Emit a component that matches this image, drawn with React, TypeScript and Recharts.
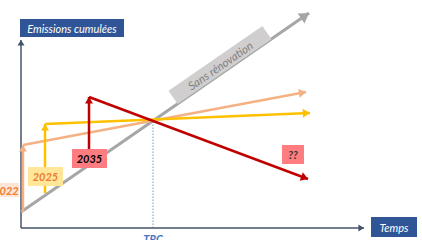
import React from 'react';
import { LineChart, Line, XAxis, YAxis } from 'recharts';

// diagram coordinates in abstract units: x = time, y = cumulated emissions
const axisX = [{ x: 0, y: 0 }, { x: 85.75, y: 0 }];
const axisY = [{ x: 0, y: 0 }, { x: 0, y: 94 }];
const sansRenovation = [{ x: 0, y: 8 }, { x: 72, y: 107.5 }];
const reno2022Up = [{ x: 0.5, y: 8 }, { x: 0.5, y: 41.5 }];
const reno2022 = [{ x: 0.5, y: 41.5 }, { x: 71.25, y: 68 }];
const reno2025Up = [{ x: 6, y: 17.5 }, { x: 6, y: 52 }];
const reno2025 = [{ x: 6, y: 52 }, { x: 72.25, y: 57.5 }];
const reno2035Up = [{ x: 17, y: 39.5 }, { x: 17, y: 65.5 }];
const reno2035 = [{ x: 17, y: 65.5 }, { x: 71.75, y: 24.5 }];
const trcLine = [{ x: 33, y: 0 }, { x: 33, y: 54 }];

const font = 'Lato, "Open Sans", sans-serif';

const arrowDot = (color: string, size: number) => (props: any) => {
  const { cx, cy, index, points } = props;
  if (!points || index !== points.length - 1) return <g key={`d${index}`} />;
  const prev = points[index - 1];
  const ang = Math.atan2(cy - prev.y, cx - prev.x);
  const back = size * 1.6;
  const p1x = cx - back * Math.cos(ang) + size * Math.sin(ang);
  const p1y = cy - back * Math.sin(ang) - size * Math.cos(ang);
  const p2x = cx - back * Math.cos(ang) - size * Math.sin(ang);
  const p2y = cy - back * Math.sin(ang) + size * Math.cos(ang);
  return <polygon key={`d${index}`} points={`${cx},${cy} ${p1x},${p1y} ${p2x},${p2y}`} fill={color} />;
};

const box = (left: number, top: number, width: number, height: number, bg: string): React.CSSProperties => ({
  position: 'absolute',
  left,
  top,
  width,
  height,
  background: bg,
  display: 'flex',
  alignItems: 'center',
  justifyContent: 'center',
  fontFamily: font,
  fontStyle: 'italic',
  whiteSpace: 'nowrap',
});

export default function App() {
  return (
    <div style={{ position: 'relative', width: 422, height: 240, overflow: 'hidden', background: '#fff' }}>
      <style>{'body{margin:0}'}</style>
      <LineChart width={422} height={240} margin={{ top: 8, right: 1, bottom: 12, left: 21 }}>
        <XAxis type="number" dataKey="x" domain={[0, 100]} hide />
        <YAxis type="number" dataKey="y" domain={[0, 110]} hide />
        <Line data={trcLine} dataKey="y" stroke="#8FAADC" strokeWidth={1.2} strokeDasharray="1.5 1.5" dot={false} isAnimationActive={false} />
        <Line data={axisX} dataKey="y" stroke="#44546A" strokeWidth={1.5} dot={arrowDot('#44546A', 3.5)} isAnimationActive={false} />
        <Line data={axisY} dataKey="y" stroke="#44546A" strokeWidth={1.5} dot={arrowDot('#44546A', 3.5)} isAnimationActive={false} />
        <Line data={sansRenovation} dataKey="y" stroke="#A6A6A6" strokeWidth={3} dot={arrowDot('#A6A6A6', 6)} isAnimationActive={false} />
        <Line data={reno2022Up} dataKey="y" stroke="#F4B183" strokeWidth={2.5} dot={arrowDot('#F4B183', 4)} isAnimationActive={false} />
        <Line data={reno2022} dataKey="y" stroke="#F4B183" strokeWidth={2.5} dot={arrowDot('#F4B183', 4.5)} isAnimationActive={false} />
        <Line data={reno2025Up} dataKey="y" stroke="#FFC000" strokeWidth={2.5} dot={arrowDot('#FFC000', 4)} isAnimationActive={false} />
        <Line data={reno2025} dataKey="y" stroke="#FFC000" strokeWidth={2.5} dot={arrowDot('#FFC000', 4.5)} isAnimationActive={false} />
        <Line data={reno2035Up} dataKey="y" stroke="#C00000" strokeWidth={2.5} dot={arrowDot('#C00000', 4)} isAnimationActive={false} />
        <Line data={reno2035} dataKey="y" stroke="#C00000" strokeWidth={2.5} dot={arrowDot('#C00000', 4.5)} isAnimationActive={false} />
      </LineChart>

      <div style={{ ...box(20, 19, 104, 18, '#2F5597'), color: '#fff', fontSize: 11 }}>Emissions cumulées</div>
      <div style={{ ...box(371, 217, 46, 20, '#2F5597'), color: '#fff', fontSize: 11 }}>Temps</div>
      <div
        style={{
          ...box(163, 57, 114, 16, '#D0CECE'),
          color: '#7F7F7F',
          fontSize: 11.5,
          transform: 'rotate(-34.6deg)',
          transformOrigin: 'center',
        }}
      >
        Sans rénovation
      </div>
      <div style={{ ...box(-7, 183, 26, 14, '#FBE5D6'), color: '#ED7D31', fontSize: 11, fontWeight: 700 }}>2022</div>
      <div style={{ ...box(28, 167, 35, 19, '#FFE699'), color: '#ED7D31', fontSize: 11, fontWeight: 700 }}>2025</div>
      <div style={{ ...box(72, 149, 35, 19, '#FF7C80'), color: '#000', fontSize: 11, fontWeight: 700 }}>2035</div>
      <div style={{ ...box(282, 145, 22, 19, '#FF7C80'), color: '#333', fontSize: 11, fontWeight: 700 }}>??</div>
      <div style={{ position: 'absolute', left: 137, top: 232, width: 32, textAlign: 'center', color: '#4472C4', fontFamily: font, fontStyle: 'italic', fontWeight: 700, fontSize: 11 }}>
        TRC
      </div>
    </div>
  );
}
